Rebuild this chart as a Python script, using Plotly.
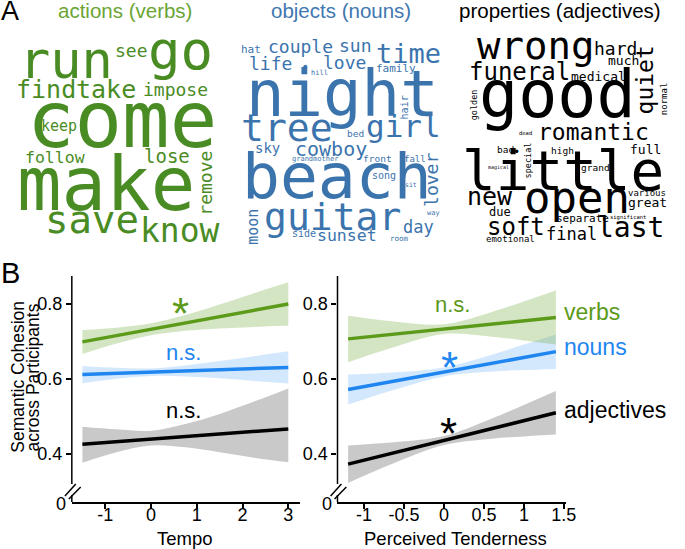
import plotly.graph_objects as go

W, H = 685, 549


def px(x):
    return x / W


def py(y):
    return 1 - y / H


# ---- panel A: word clouds ----
verb_words = ["run", "go", "see", "find", "take", "impose", "come", "keep",
              "follow", "lose", "remove", "make", "save", "know"]
noun_words = ["hat", "couple", "sun", "time", "life", "•", "love", "hill", "family",
              "night", "hair", "tree", "girl", "bed", "sky", "cowboy", "grandmother",
              "front", "fall", "lover", "beach", "song", "sit", "moon", "guitar",
              "way", "day", "side", "sunset", "room"]
adj_words = ["wrong", "hard", "much", "quiet", "funeral", "medical", "good", "golden",
             "normal", "romantic", "dead", "bad", "•", "special", "high", "full",
             "little", "magical", "grand", "new", "open", "various", "great", "due",
             "soft", "separate", "significant", "final", "last", "emotional"]

# layout of the clouds (pixel centre x, baseline y, font size, rotation)
verb_x = [67, 183, 134, 47, 108, 178, 124, 60, 56, 170, 209, 108, 93, 183]
verb_base = [78, 69, 57, 98, 98, 96, 148, 131, 163, 163, None, 210, 233, 242]
verb_cy = [None] * 10 + [183] + [None] * 3
verb_size = [52, 54, 18, 25, 25, 18, 79, 15, 16.5, 19, 18, 74, 39, 33]

noun_x = [255, 305, 361, 415, 275, 310, 350, 325, 402, 348, 411, 292, 410, 361, 272,
          336, 320, 384, 422, 439, 342, 390, 418, 257, 338, 441, 425, 309, 353, 406]
noun_base = [53, 53, 52, 63, 70, 72, 69, 75, 72, 116, None, 141, 137, 137, 153,
             156, 161, 162, 162, None, 199, 179, 187, None, 230, 215, 233, 237, 241, 241]
noun_cy = {10: 107, 19: 180, 23: 227}
noun_size = [11, 18, 18, 27, 18, 14, 18, 7, 11, 64, 10, 38, 31, 9.5, 14, 20, 7, 9.5,
             9, 18, 63, 10, 6.5, 15, 38, 7, 17, 10, 16.5, 7.5]

adj_x = [544, 626, 634, 656, 528, 608, 567, 482, 675, 603, 534, 514, 525, 537, 572,
         656, 572, 507, 605, 498, 586, 658, 658, 508, 524, 592, 638, 581, 641, 519]
adj_base = [59, 55, 65, None, 80, 81, 117, None, None, 140, 135, 153, 156, None, 154,
            154, 190, 169, 171, 205, 213, 196, 207, 216, 235, 222, 219, 240, 237, 242]
adj_cy = {3: 80, 7: 105, 8: 99, 13: 160}
adj_size = [39, 18, 13, 23, 24, 13, 65, 8.5, 9, 23, 5.5, 9.5, 12, 8.5, 9.5, 13,
            56, 5, 9.5, 25, 44, 9, 13, 12, 24, 11, 5.5, 17, 28, 9]

VERB_C, NOUN_C, ADJ_C = "#4a8c24", "#3b74ad", "#000000"

annotations = []


def add_word(text, x, base, size, color, cy=None, fam="DejaVu Sans Mono"):
    if cy is None:
        yc = base - 0.35 * size
        angle = 0
    else:
        yc = cy
        angle = -90
    annotations.append(dict(text=text, x=px(x), y=py(yc), xref="paper", yref="paper",
                            showarrow=False, xanchor="center", yanchor="middle",
                            textangle=angle, borderpad=0,
                            font=dict(family=fam, size=size, color=color)))


for i, w in enumerate(verb_words):
    add_word(w, verb_x[i], verb_base[i], verb_size[i], VERB_C, verb_cy[i])
for i, w in enumerate(noun_words):
    add_word(w, noun_x[i], noun_base[i], noun_size[i], NOUN_C, noun_cy.get(i))
for i, w in enumerate(adj_words):
    add_word(w, adj_x[i], adj_base[i], adj_size[i], ADJ_C, adj_cy.get(i))

ARIAL = "Liberation Sans, Arial, sans-serif"


def add_text(text, x, y, size, color="black", anchor="center", angle=0):
    annotations.append(dict(text=text, x=px(x), y=py(y), xref="paper", yref="paper",
                            showarrow=False, xanchor=anchor, yanchor="middle",
                            textangle=angle, borderpad=0,
                            font=dict(family=ARIAL, size=size, color=color)))


add_text("A", 0, 11, 27, anchor="left")
add_text("actions (verbs)", 127, 11, 20.5, "#6aa534")
add_text("objects (nouns)", 347, 11, 20.5, "#3f78b0")
add_text("properties (adjectives)", 569, 11, 20.5, "black")

# ---- panel B: regression fits with confidence bands ----
tempo_x = [-1.5, -0.75, 0, 0.75, 1.5, 2.25, 3]
tempo_verbs = [0.699, 0.716, 0.733, 0.750, 0.767, 0.784, 0.800]
tempo_verbs_hi = [0.731, 0.737, 0.749, 0.771, 0.799, 0.829, 0.858]
tempo_verbs_lo = [0.667, 0.695, 0.717, 0.729, 0.735, 0.739, 0.742]
tempo_nouns = [0.612, 0.615, 0.618, 0.621, 0.625, 0.628, 0.631]
tempo_nouns_hi = [0.635, 0.630, 0.628, 0.636, 0.648, 0.661, 0.674]
tempo_nouns_lo = [0.589, 0.601, 0.608, 0.607, 0.602, 0.595, 0.588]
tempo_adj = [0.426, 0.433, 0.440, 0.447, 0.453, 0.460, 0.467]
tempo_adj_hi = [0.473, 0.466, 0.462, 0.480, 0.507, 0.540, 0.575]
tempo_adj_lo = [0.377, 0.405, 0.423, 0.418, 0.405, 0.390, 0.378]

tender_x = [-1.2, -0.6, 0, 0.6, 1.0, 1.4]
tender_verbs = [0.707, 0.720, 0.733, 0.746, 0.755, 0.764]
tender_verbs_hi = [0.769, 0.753, 0.746, 0.779, 0.807, 0.836]
tender_verbs_lo = [0.645, 0.687, 0.720, 0.713, 0.703, 0.692]
tender_nouns = [0.572, 0.595, 0.619, 0.642, 0.658, 0.673]
tender_nouns_hi = [0.612, 0.618, 0.631, 0.665, 0.692, 0.719]
tender_nouns_lo = [0.532, 0.573, 0.607, 0.620, 0.624, 0.627]
tender_adj = [0.373, 0.405, 0.436, 0.468, 0.489, 0.510]
tender_adj_hi = [0.423, 0.432, 0.448, 0.495, 0.531, 0.568]
tender_adj_lo = [0.323, 0.378, 0.424, 0.441, 0.447, 0.452]

GREEN, BLUE, BLACK = "#5c9a1a", "#1f86f0", "#000000"
BAND = {GREEN: "rgba(100,160,40,0.28)", BLUE: "rgba(40,140,245,0.2)",
        BLACK: "rgba(0,0,0,0.21)"}

fig = go.Figure()

panels = [
    ("x", "y", tempo_x, [(tempo_verbs, tempo_verbs_hi, tempo_verbs_lo, GREEN),
                         (tempo_nouns, tempo_nouns_hi, tempo_nouns_lo, BLUE),
                         (tempo_adj, tempo_adj_hi, tempo_adj_lo, BLACK)]),
    ("x2", "y2", tender_x, [(tender_verbs, tender_verbs_hi, tender_verbs_lo, GREEN),
                            (tender_nouns, tender_nouns_hi, tender_nouns_lo, BLUE),
                            (tender_adj, tender_adj_hi, tender_adj_lo, BLACK)]),
]

for xa, ya, xs, series in panels:
    # bands first, reversed so green sits on top of blue
    for fit, hi, lo, col in reversed(series):
        fig.add_trace(go.Scatter(x=xs, y=hi, mode="lines", line=dict(width=0, shape="spline"),
                                 xaxis=xa, yaxis=ya, showlegend=False, hoverinfo="skip"))
        fig.add_trace(go.Scatter(x=xs, y=lo, mode="lines", line=dict(width=0, shape="spline"),
                                 fill="tonexty", fillcolor=BAND[col],
                                 xaxis=xa, yaxis=ya, showlegend=False, hoverinfo="skip"))
    for fit, hi, lo, col in series:
        fig.add_trace(go.Scatter(x=xs, y=fit, mode="lines", line=dict(width=3.5, color=col),
                                 xaxis=xa, yaxis=ya, showlegend=False))

ydom = [py(502), py(276)]
yr = [0.272, 0.8747]
tickfont = dict(family=ARIAL, size=18, color="black")
common_y = dict(domain=ydom, range=yr, tickvals=[0.4, 0.6, 0.8], ticktext=["0.4", "0.6", "0.8"],
                ticks="outside", ticklen=5, tickwidth=1.5, tickcolor="black",
                showline=False, showgrid=False, zeroline=False, tickfont=tickfont)
common_x = dict(ticks="outside", ticklen=5, tickwidth=1.5, tickcolor="black",
                showline=True, linecolor="black", linewidth=1.5, showgrid=False,
                zeroline=False, tickfont=tickfont, ticklabelstandoff=-9)

fig.update_layout(
    xaxis=dict(domain=[px(73), px(305)], range=[-1.731, 3.258], anchor="y",
               tickvals=[-1, 0, 1, 2, 3], ticktext=["-1", "0", "1", "2", "3"], **common_x),
    yaxis=dict(anchor="x", **common_y),
    xaxis2=dict(domain=[px(343), px(575)], range=[-1.333, 1.524], anchor="y2",
                tickvals=[-1, -0.5, 0, 0.5, 1, 1.5],
                ticktext=["-1", "-0.5", "0", "0.5", "1", "1.5"], **common_x),
    yaxis2=dict(anchor="x2", **common_y),
)

# broken y axes
shapes = []
for ax in (73, 343):
    line = dict(type="line", xref="paper", yref="paper", line=dict(color="black", width=1.5))
    shapes.append(dict(line, x0=px(ax), x1=px(ax), y0=py(276), y1=py(484)))
    shapes.append(dict(line, x0=px(ax), x1=px(ax), y0=py(495), y1=py(502)))
    shapes.append(dict(line, x0=px(ax - 7), x1=px(ax + 4), y0=py(496), y1=py(484)))
    shapes.append(dict(line, x0=px(ax - 3), x1=px(ax + 9), y0=py(499), y1=py(487)))
    add_text("0", ax - 11, 504, 18)

# panel B labels
add_text("B", 0, 273, 29, anchor="left")
add_text("Semantic Cohesion", 18, 377, 17.5, angle=-90)
add_text("across Participants", 34, 377, 17.5, angle=-90)
add_text("Tempo", 188, 538, 18.5)
add_text("Perceived Tenderness", 463, 538, 18.5)

add_text("*", 183, 313, 44, GREEN)
add_text("n.s.", 186, 352, 22, BLUE)
add_text("n.s.", 186, 410, 22, BLACK)
add_text("n.s.", 460, 304, 22, GREEN)
add_text("*", 457, 367, 44, BLUE)
add_text("*", 456, 433, 44, BLACK)
add_text("verbs", 572, 312, 23, GREEN, anchor="left")
add_text("nouns", 572, 347, 23, BLUE, anchor="left")
add_text("adjectives", 572, 410, 23, BLACK, anchor="left")

fig.update_layout(width=W, height=H, margin=dict(l=0, r=0, t=0, b=0),
                  paper_bgcolor="white", plot_bgcolor="white",
                  annotations=annotations, shapes=shapes)

fig.write_html("out.html", config={"displayModeBar": False},
               post_script="document.body.style.margin='0';"
                           "document.body.style.overflow='hidden';")
